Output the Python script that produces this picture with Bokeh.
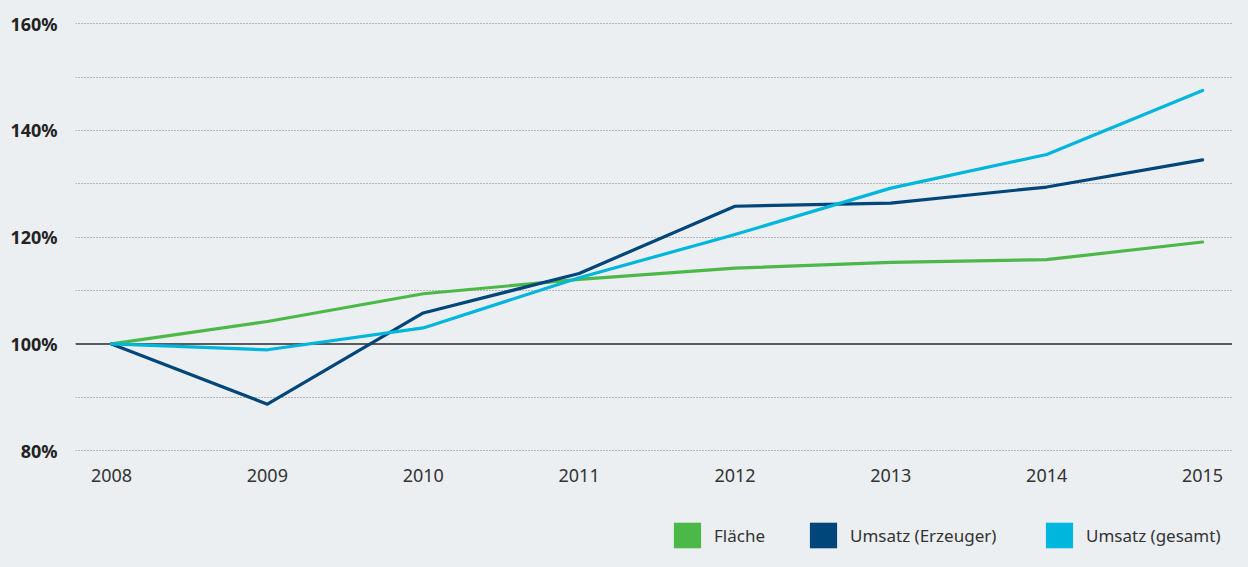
from bokeh.plotting import figure
from bokeh.layouts import column
from bokeh.models import FixedTicker, Span, Legend, LegendItem
from bokeh.embed import file_html
from bokeh.resources import INLINE

years = [2008, 2009, 2010, 2011, 2012, 2013, 2014, 2015]
flaeche = [100.0, 104.2, 109.4, 112.1, 114.2, 115.3, 115.8, 119.1]
erzeuger = [100.0, 88.7, 105.8, 113.2, 125.8, 126.4, 129.4, 134.5]
gesamt = [100.0, 98.9, 103.0, 112.4, 120.5, 129.2, 135.5, 147.5]
y_major = [80, 100, 120, 140, 160]
y_minor = [90, 110, 130, 150]
y_labels = ["80%", "100%", "120%", "140%", "160%"]
series_names = ["Fläche", "Umsatz (Erzeuger)", "Umsatz (gesamt)"]
colors = ["#4cb848", "#00467a", "#00b6dd"]

BG = "#ebeff2"
FONT = "Noto Sans"
LEFT = 75

p = figure(width=1232, height=515, output_backend="svg", toolbar_location=None,
           x_range=(2007.769, 2015.192), y_range=(78.9, 162.3),
           min_border_left=LEFT, min_border_right=0, min_border_top=11, min_border_bottom=59)
p.background_fill_color = BG
p.border_fill_color = BG
p.outline_line_color = None

# axes
p.yaxis.ticker = FixedTicker(ticks=y_major, minor_ticks=y_minor)
p.yaxis.major_label_overrides = {t: l for t, l in zip(y_major, y_labels)}
p.yaxis.axis_line_color = None
p.yaxis.major_tick_line_color = None
p.yaxis.minor_tick_line_color = None
p.yaxis.major_label_standoff = 12
p.yaxis.major_label_text_font = FONT
p.yaxis.major_label_text_font_size = "18px"
p.yaxis.major_label_text_font_style = "bold"
p.yaxis.major_label_text_color = "#222222"

p.xaxis.ticker = FixedTicker(ticks=years)
p.xaxis.major_label_overrides = {y: str(y) for y in years}
p.xaxis.axis_line_color = None
p.xaxis.major_tick_line_color = None
p.xaxis.minor_tick_line_color = None
p.xaxis.major_label_standoff = 6
p.xaxis.major_label_text_font = FONT
p.xaxis.major_label_text_font_size = "18px"
p.xaxis.major_label_text_color = "#333333"

# grids
p.xgrid.grid_line_color = None
p.ygrid.grid_line_color = "#7a7a7a"
p.ygrid.grid_line_dash = "1 2"
p.ygrid.grid_line_width = 1
p.ygrid.minor_grid_line_color = "#7a7a7a"
p.ygrid.minor_grid_line_dash = "1 2"
p.ygrid.minor_grid_line_width = 1

base = Span(location=100, dimension="width", line_color="#5a5a5a", line_width=2, level="underlay")
p.add_layout(base)

for vals, c in zip([flaeche, erzeuger, gesamt], colors):
    p.line(years, vals, line_color=c, line_width=3.2, line_join="round", line_cap="round")

# legend strip below the chart (frames are aligned in the column)
lf = figure(width=1232, height=36, output_backend="svg", toolbar_location=None,
            x_axis_location=None, y_axis_location=None,
            x_range=(0, 1), y_range=(0, 1), min_border=0,
            min_border_left=LEFT, min_border_right=0)
lf.background_fill_color = BG
lf.border_fill_color = BG
lf.outline_line_color = None
lf.grid.grid_line_color = None

nan = float("nan")
legend_x = [670, 806, 1042]
for name, c, lx in zip(series_names, colors, legend_x):
    r = lf.quad(left=[nan], right=[nan], top=[nan], bottom=[nan], fill_color=c, line_color=None)
    lg = Legend(items=[LegendItem(label=name, renderers=[r], index=0)], location=(lx - LEFT, 0),
                orientation="horizontal", glyph_width=34, glyph_height=32,
                label_standoff=10, padding=0, margin=0, spacing=0,
                border_line_color=None, background_fill_alpha=0,
                label_text_font=FONT, label_text_font_size="17px",
                label_text_color="#333333", label_height=32)
    lf.add_layout(lg, "center")

layout = column(p, lf, spacing=0)
html = file_html(layout, INLINE)
html = html.replace("</head>", "<style>html,body{background:%s;}</style></head>" % BG, 1)
open("out.html", "w").write(html)
